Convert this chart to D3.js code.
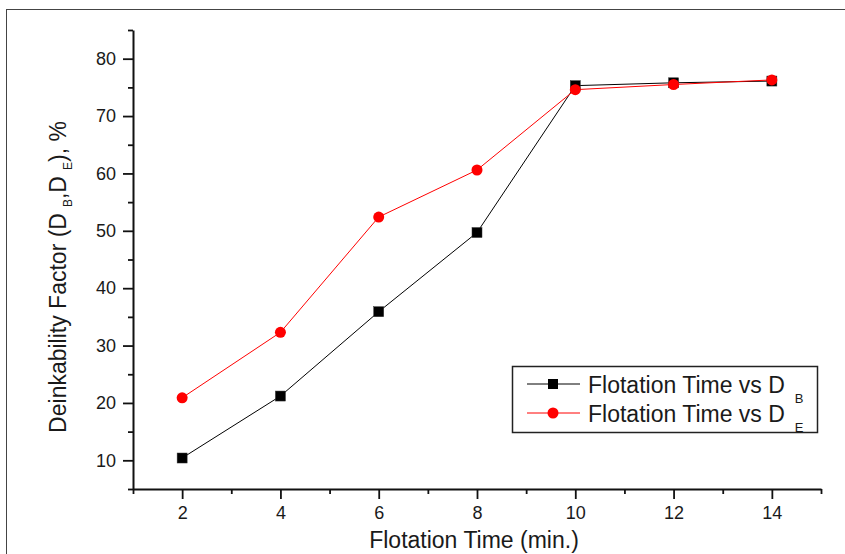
<!DOCTYPE html>
<html>
<head>
<meta charset="utf-8">
<script src="https://cdn.jsdelivr.net/npm/d3@7"></script>
<style>
  html, body { margin: 0; padding: 0; background: #fff; }
  svg { display: block; font-family: "Liberation Sans", Arial, sans-serif; }
  .axis path, .axis line { stroke: #111; }
  .axis text { fill: #1a1a1a; font-size: 18px; font-family: "Liberation Sans", Arial, sans-serif; }
</style>
</head>
<body>
<svg id="chart" width="845" height="554"></svg>
<script>
// Flotation time (min.)
const flotationTime = [2, 4, 6, 8, 10, 12, 14];
// Deinkability factor D_B, %
const deinkB = [10.4, 21.2, 35.9, 49.7, 75.3, 75.8, 76.1];
// Deinkability factor D_E, %
const deinkE = [20.9, 32.3, 52.4, 60.6, 74.6, 75.5, 76.3];

const xMajorTicks = [2, 4, 6, 8, 10, 12, 14];
const xMinorTicks = [1, 3, 5, 7, 9, 11, 13, 15];
const yMajorTicks = [10, 20, 30, 40, 50, 60, 70, 80];
const yMinorTicks = [5, 15, 25, 35, 45, 55, 65, 75, 85];

const legendLabels = ["Flotation Time vs D", "Flotation Time vs D"];
const legendSubs = ["B", "E"];

const svg = d3.select("#chart");
const W = 845, H = 554;
const plot = { left: 133, right: 821, top: 30, bottom: 489 };

// outer frame
svg.append("rect")
  .attr("x", 6.5).attr("y", 9.5)
  .attr("width", W).attr("height", H)
  .attr("fill", "none").attr("stroke", "#444").attr("stroke-width", 1);

const x = d3.scaleLinear().domain([1, 15]).range([plot.left, plot.right]);
const y = d3.scaleLinear().domain([5, 85]).range([plot.bottom, plot.top]);

// x axis: major ticks with labels, minor ticks without
const gx = svg.append("g").attr("class", "axis")
  .attr("transform", `translate(0,${plot.bottom})`);
gx.call(d3.axisBottom(x).tickValues(xMajorTicks).tickSize(10).tickSizeOuter(0).tickPadding(7).tickFormat(d3.format("d")));
gx.append("g").call(d3.axisBottom(x).tickValues(xMinorTicks).tickSize(5).tickSizeOuter(0).tickFormat(""))
  .select(".domain").remove();
gx.selectAll("line").attr("stroke-width", 1.8);
gx.select(".domain").attr("stroke-width", 2);

// y axis
const gy = svg.append("g").attr("class", "axis")
  .attr("transform", `translate(${plot.left},0)`);
gy.call(d3.axisLeft(y).tickValues(yMajorTicks).tickSize(10).tickSizeOuter(0).tickPadding(7).tickFormat(d3.format("d")));
gy.append("g").call(d3.axisLeft(y).tickValues(yMinorTicks).tickSize(5).tickSizeOuter(0).tickFormat(""))
  .select(".domain").remove();
gy.selectAll("line").attr("stroke-width", 1.8);
gy.select(".domain").attr("stroke-width", 2);

// axis titles
svg.append("text")
  .attr("x", (plot.left + plot.right) / 2 - 3)
  .attr("y", 548)
  .attr("text-anchor", "middle")
  .attr("font-size", 23)
  .attr("fill", "#1a1a1a")
  .text("Flotation Time (min.)");

const yTitle = svg.append("text")
  .attr("transform", `translate(66,277) rotate(-90)`)
  .attr("text-anchor", "middle")
  .attr("font-size", 23)
  .attr("fill", "#1a1a1a");
yTitle.append("tspan").text("Deinkability Factor (D");
yTitle.append("tspan").attr("font-size", 12).attr("dx", 6).attr("dy", 6).text("B");
yTitle.append("tspan").attr("dy", -6).text(",D");
yTitle.append("tspan").attr("font-size", 12).attr("dx", 6).attr("dy", 6).text("E");
yTitle.append("tspan").attr("dy", -6).text("), %");

// series
const line = d3.line().x(d => x(d[0])).y(d => y(d[1]));
const seriesB = flotationTime.map((t, i) => [t, deinkB[i]]);
const seriesE = flotationTime.map((t, i) => [t, deinkE[i]]);

svg.append("path").datum(seriesB)
  .attr("d", line).attr("fill", "none").attr("stroke", "#000").attr("stroke-width", 1);
svg.append("path").datum(seriesE)
  .attr("d", line).attr("fill", "none").attr("stroke", "#ff0000").attr("stroke-width", 1);

const sq = 10;
svg.append("g").selectAll("rect").data(seriesB).join("rect")
  .attr("x", d => x(d[0]) - sq / 2).attr("y", d => y(d[1]) - sq / 2)
  .attr("width", sq).attr("height", sq)
  .attr("fill", "#000").attr("stroke", "#333").attr("stroke-width", 0.5);
svg.append("g").selectAll("circle").data(seriesE).join("circle")
  .attr("cx", d => x(d[0])).attr("cy", d => y(d[1])).attr("r", 5.5)
  .attr("fill", "#ff0000");

// legend
const lg = svg.append("g");
lg.append("rect")
  .attr("x", 512.5).attr("y", 366.5).attr("width", 305).attr("height", 66)
  .attr("fill", "#fff").attr("stroke", "#222").attr("stroke-width", 1.5);
const rowsY = [384, 413];
const colors = ["#000", "#ff0000"];
rowsY.forEach((ry, i) => {
  lg.append("line").attr("x1", 527).attr("x2", 580).attr("y1", ry).attr("y2", ry)
    .attr("stroke", colors[i]).attr("stroke-width", 1);
  if (i === 0) {
    lg.append("rect").attr("x", 553 - sq / 2).attr("y", ry - sq / 2)
      .attr("width", sq).attr("height", sq).attr("fill", "#000");
  } else {
    lg.append("circle").attr("cx", 553).attr("cy", ry).attr("r", 5.5).attr("fill", "#ff0000");
  }
  const t = lg.append("text").attr("x", 588).attr("y", ry + 9)
    .attr("font-size", 23).attr("fill", "#1a1a1a");
  t.append("tspan").text(legendLabels[i]);
  t.append("tspan").attr("font-size", 13).attr("dx", 10).attr("dy", 10).text(legendSubs[i]);
});
</script>
</body>
</html>
